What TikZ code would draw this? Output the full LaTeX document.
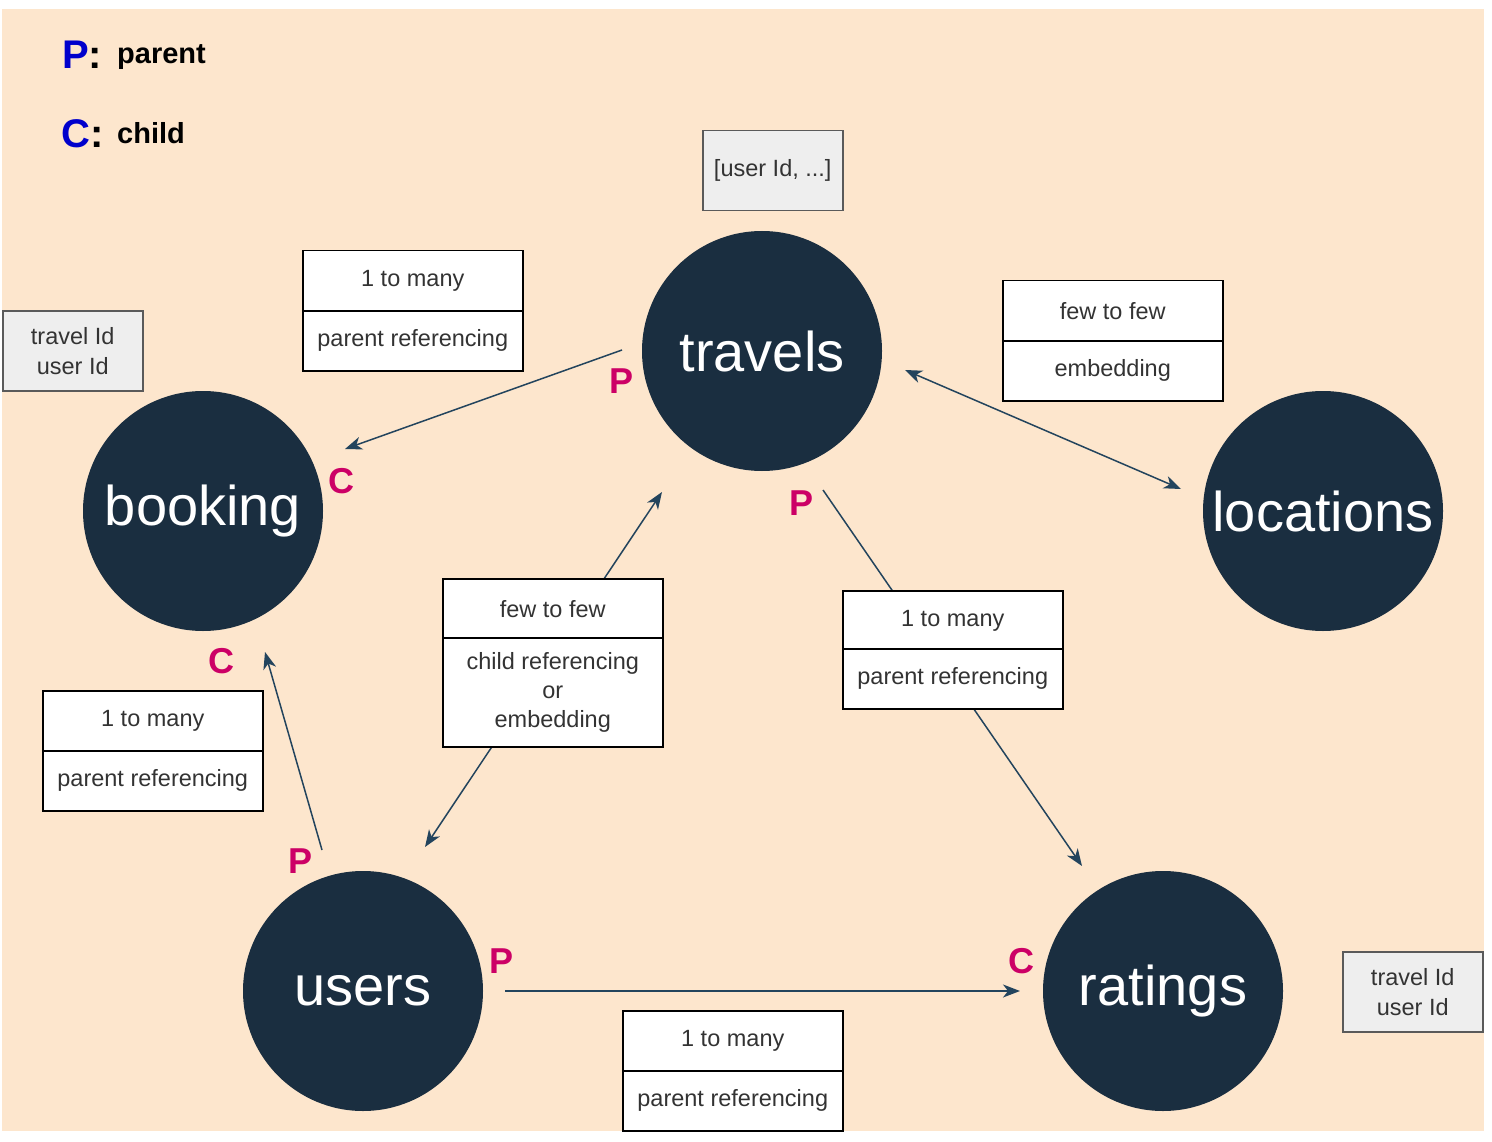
\documentclass[tikz,border=0pt]{standalone}
\usepackage{fontspec}
\setmainfont{Liberation Sans}
\usepackage{tikz}
\usetikzlibrary{arrows.meta}

\definecolor{peach}{RGB}{253,230,205}
\definecolor{entityfill}{RGB}{26,46,64}
\definecolor{linkcol}{RGB}{35,68,93}
\definecolor{rolecol}{RGB}{204,0,102}
\definecolor{keycol}{RGB}{0,0,204}
\definecolor{textgray}{RGB}{51,51,51}
\definecolor{idfill}{RGB}{238,238,238}
\definecolor{idedge}{RGB}{90,90,90}

\begin{document}
\begin{tikzpicture}[x=1pt,y=-1pt,
  entity/.style={circle,fill=entityfill,draw=none,minimum size=240pt,inner sep=0pt,
    text=white,font=\fontsize{56}{60}\selectfont},
  cell/.style={draw=black,line width=1.5pt,fill=white,minimum width=220pt,minimum height=60pt,
    inner sep=0pt,anchor=north west,align=center,text=textgray,font=\fontsize{23.5}{29}\selectfont},
  idbox/.style={draw=idedge,line width=1.5pt,fill=idfill,minimum width=140pt,minimum height=80pt,
    inner sep=0pt,anchor=north west,align=center,text=textgray,font=\fontsize{23.5}{30}\selectfont},
  role/.style={text=rolecol,inner sep=0pt,font=\bfseries\fontsize{36}{36}\selectfont},
  link/.style={draw=linkcol,line width=1.5pt},
  tip/.style={-{Stealth[length=17pt,width=13pt,inset=5pt]}},
  tips/.style={{Stealth[length=17pt,width=13pt,inset=5pt]}-{Stealth[length=17pt,width=13pt,inset=5pt]}}
]
\useasboundingbox (0,0) rectangle (1492,1142);
\fill[white] (0,0) rectangle (1492,1142);
\fill[peach] (2,9) rectangle (1484,1131);

% legend
\node[anchor=base west,inner sep=0pt,font=\bfseries\fontsize{40}{40}\selectfont] (keyP) at (62,69) {\textcolor{keycol}{P}:};
\node[anchor=base west,inner sep=0pt,font=\bfseries\fontsize{29}{29}\selectfont] (keyPtxt) at (117,64) {parent};
\node[anchor=base west,inner sep=0pt,font=\bfseries\fontsize{40}{40}\selectfont] (keyC) at (61,148) {\textcolor{keycol}{C}:};
\node[anchor=base west,inner sep=0pt,font=\bfseries\fontsize{29}{29}\selectfont] (keyCtxt) at (117,144) {child};

% collections
\node[entity] (travels) at (762,351) {travels};
\node[entity] (booking) at (203,511) {booking};
\node[entity] (locations) at (1323,511) {locations};
\node[entity] (users) at (363,991) {users};
\node[entity] (ratings) at (1163,991) {ratings};

% connector ends
\coordinate (tvB) at (622,350);
\coordinate (bkT) at (345,449);
\coordinate (tvL) at (905,370);
\coordinate (lcT) at (1181,489);
\coordinate (usT) at (425,847);
\coordinate (tvU) at (662,492);
\coordinate (usB) at (322,850);
\coordinate (bkU) at (265,652);
\coordinate (tvR) at (823,490);
\coordinate (rtT) at (1082,866);
\coordinate (usR) at (505,991);
\coordinate (rtU) at (1020,991);

\draw[link,tip] (tvB) -- (bkT);
\draw[link,tips] (tvL) -- (lcT);
\draw[link,tips] (usT) -- (tvU);
\draw[link,tip] (usB) -- (bkU);
\draw[link,tip] (tvR) -- (rtT);
\draw[link,tip] (usR) -- (rtU);

% relation boxes
\node[cell] (tbTop) at (302,250) {1 to many};
\node[cell] (tbBot) at (302,310) {parent referencing};
\node[cell] (tlTop) at (1002,280) {few to few};
\node[cell] (tlBot) at (1002,340) {embedding};
\node[cell] (utTop) at (442,578) {few to few};
\node[cell,minimum height=109pt] (utBot) at (442,637) {child referencing\\or\\embedding};
\node[cell] (trTop) at (842,590) {1 to many};
\node[cell] (trBot) at (842,648) {parent referencing};
\node[cell] (ubTop) at (42,690) {1 to many};
\node[cell] (ubBot) at (42,750) {parent referencing};
\node[cell] (urTop) at (622,1010) {1 to many};
\node[cell] (urBot) at (622,1070) {parent referencing};

% reference fields
\node[idbox] (tvIds) at (702,130) {[user Id, ...]};
\node[idbox] (bkIds) at (2,310) {travel Id\\user Id};
\node[idbox] (rtIds) at (1342,951) {travel Id\\user Id};

% parent / child marks
\node[role] (pTb) at (621,381) {P};
\node[role] (cTb) at (341,481) {C};
\node[role] (pTr) at (801,503) {P};
\node[role] (cUb) at (221,661) {C};
\node[role] (pUb) at (301,861) {P};
\node[role] (pUr) at (502,961) {P};
\node[role] (cUr) at (1021,961) {C};
\end{tikzpicture}
\end{document}
